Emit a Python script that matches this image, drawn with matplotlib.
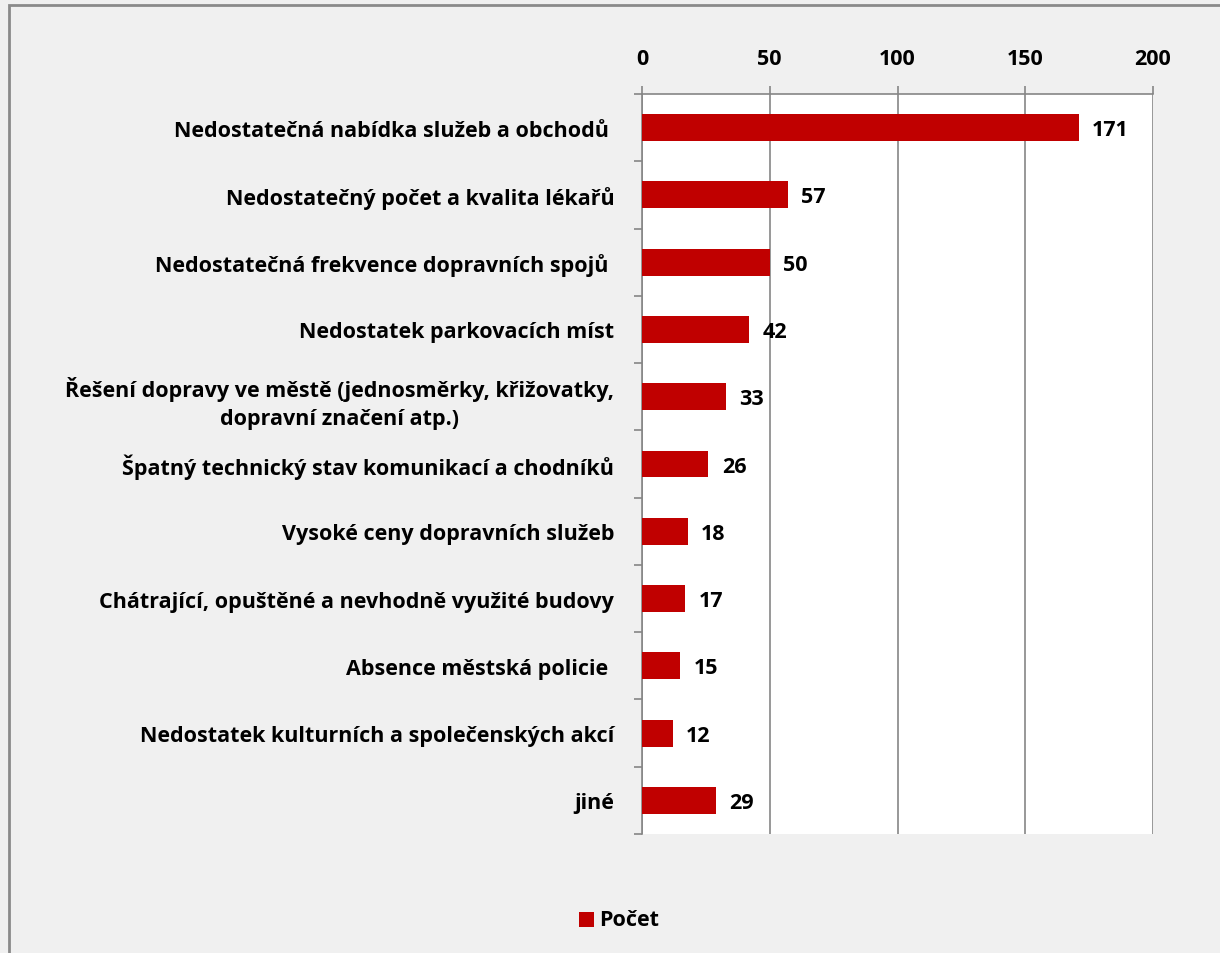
import matplotlib.pyplot as plt
import numpy as np
from matplotlib.patches import Rectangle

# data
categories = [
    "Nedostatečná nabídka služeb a obchodů ",
    "Nedostatečný počet a kvalita lékařů",
    "Nedostatečná frekvence dopravních spojů ",
    "Nedostatek parkovacích míst",
    "Řešení dopravy ve městě (jednosměrky, křižovatky,\ndopravní značení atp.)",
    "Špatný technický stav komunikací a chodníků",
    "Vysoké ceny dopravních služeb",
    "Chátrající, opuštěné a nevhodně využité budovy",
    "Absence městská policie ",
    "Nedostatek kulturních a společenských akcí",
    "jiné",
]
values = [171, 57, 50, 42, 33, 26, 18, 17, 15, 12, 29]
x_ticks = [0, 50, 100, 150, 200]
series_name = "Počet"

plt.rcParams['font.family'] = ['Open Sans', 'DejaVu Sans']
BAR_COLOR = '#C00000'
GRID_COLOR = '#868686'
FS = 15.5

fig = plt.figure(figsize=(12.2, 9.54), dpi=100, facecolor='#f0f0f0')

# outer frame of the chart area
fig.patches.append(Rectangle((9 / 1220, -0.1), 1.2, 1.1 - 6 / 954, transform=fig.transFigure,
                             facecolor='none', edgecolor='#8a8a8a', linewidth=2.0))

ax = fig.add_axes([642 / 1220, 1 - 835 / 954, (1153 - 642) / 1220, (835 - 95) / 954])
ax.set_facecolor('white')

y = np.arange(len(categories))
ax.barh(y, values, height=0.4, color=BAR_COLOR, zorder=3)

for yi, v in zip(y, values):
    ax.text(v + 5.2, yi + 0.03, str(v), va='center', ha='left', fontsize=FS, fontweight='bold', zorder=4)

ax.set_xlim(0, 200)
ax.set_ylim(len(categories) - 0.5, -0.5)
ax.set_xticks(x_ticks)
ax.xaxis.tick_top()
ax.tick_params(axis='x', which='major', length=6, width=1.2, color=GRID_COLOR,
               labelsize=FS, pad=12, direction='out')
for lbl in ax.get_xticklabels():
    lbl.set_fontweight('bold')

ax.set_yticks(y)
ax.set_yticklabels(categories, fontsize=FS, fontweight='bold', ha='right',
                   multialignment='center', linespacing=1.45)
ax.tick_params(axis='y', which='major', length=0, pad=20)
ax.set_yticks(np.arange(-0.5, len(categories), 1.0), minor=True)
ax.tick_params(axis='y', which='minor', length=6, width=1.2, color=GRID_COLOR, direction='out')

ax.grid(axis='x', color=GRID_COLOR, linewidth=1.2, zorder=1)
for side in ['right', 'bottom']:
    ax.spines[side].set_visible(False)
for side in ['left', 'top']:
    ax.spines[side].set_color(GRID_COLOR)
    ax.spines[side].set_linewidth(1.2)

# legend
fig.patches.append(Rectangle((579 / 1220, 1 - 928 / 954), 15 / 1220, 15 / 954,
                             transform=fig.transFigure, facecolor=BAR_COLOR, edgecolor='none'))
fig.text(599 / 1220, 1 - 921 / 954, series_name, fontsize=FS, fontweight='bold', va='center', ha='left')

fig.savefig('out.png', dpi=100, facecolor=fig.get_facecolor())
